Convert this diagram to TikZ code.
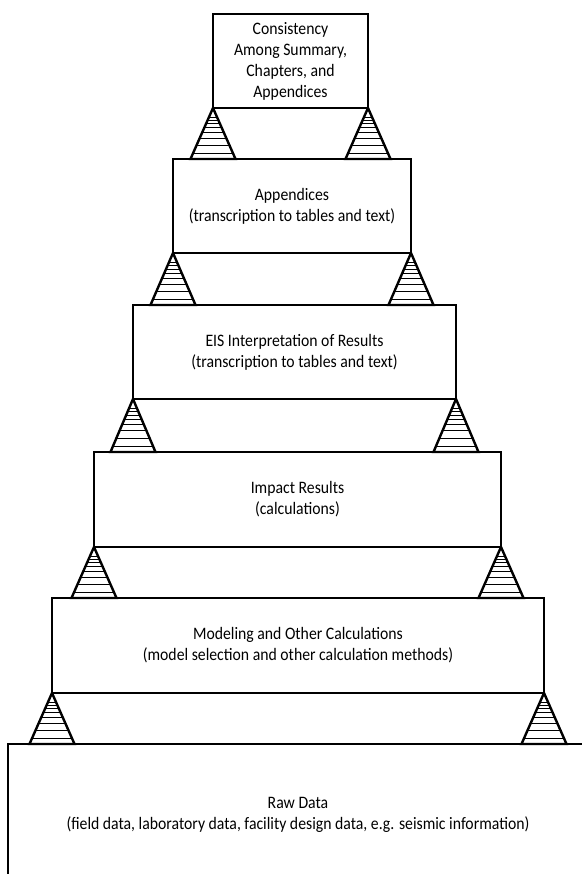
\documentclass[tikz,border=0pt]{standalone}
\usepackage{fontspec}
\setmainfont[FakeStretch=0.9]{Carlito}
\usetikzlibrary{calc}

\begin{document}
\begin{tikzpicture}[
  x=1pt, y=-1pt,
  level/.style={rectangle, draw, line width=2.6pt, inner sep=0pt, outer sep=0pt, align=center, font=\fontsize{17.5}{21}\selectfont},
  prop/.style={draw, line width=2.4pt, line join=miter},
  hatch/.style={line width=0.9pt}
]
\useasboundingbox (0,0) rectangle (581,874);

\node[level, minimum width=155pt, minimum height=94pt] (cons) at (290.5,61) {Consistency\\Among Summary,\\Chapters, and\\Appendices};
\node[level, minimum width=238pt, minimum height=94pt] (app) at (292,206) {Appendices\\(transcription to tables and text)};
\node[level, minimum width=323pt, minimum height=94pt] (eis) at (294.5,352) {EIS Interpretation of Results\\(transcription to tables and text)};
\node[level, minimum width=407pt, minimum height=95pt] (imp) at (297.5,499.5) {Impact Results\\(calculations)};
\node[level, minimum width=492pt, minimum height=95pt] (model) at (298,645.5) {Modeling and Other Calculations\\(model selection and other calculation methods)};
\node[level, minimum width=580pt, minimum height=142pt] (raw) at (298,815) {Raw Data\\(field data, laboratory data, facility design data, e.g. seismic information)};

% hatched props between the levels
\foreach \up/\down in {cons/app, app/eis, eis/imp, imp/model, model/raw} {
  \foreach \side in {south west, south east} {
    \coordinate (apex) at (\up.\side);
    \coordinate (foot) at (\up.\side |- \down.north);
    \draw[prop] (apex) -- ($(foot)+(-22.5,0)$) -- ($(foot)+(22.5,0)$) -- cycle;
    \foreach \t in {0.18,0.24,0.31,0.39,0.48,0.6,0.74,0.89}
      \draw[hatch] ($(apex)!\t!(foot)+(-22.5*\t,0)$) -- ++(45*\t,0);
  }
}
\end{tikzpicture}
\end{document}
